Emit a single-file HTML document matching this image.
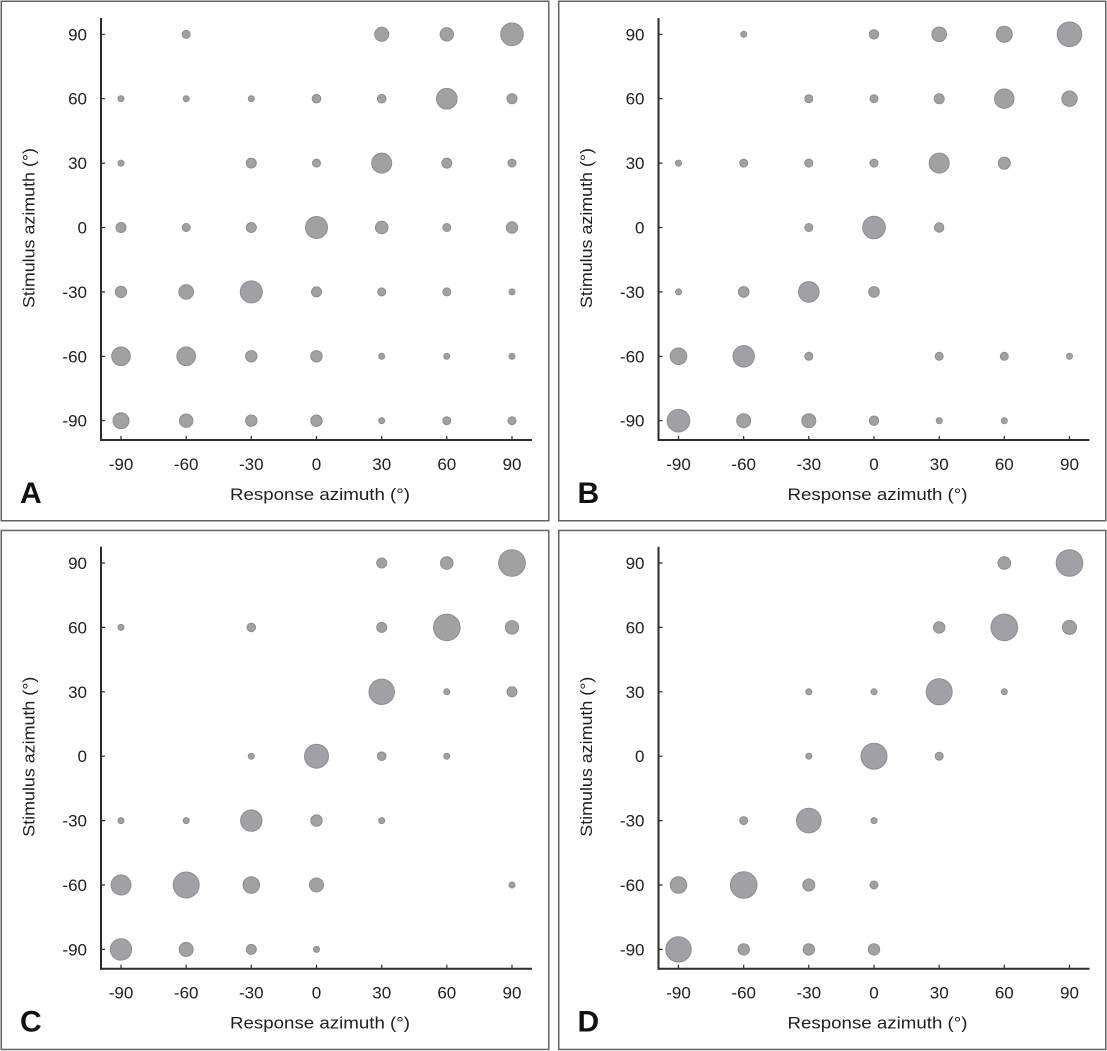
<!DOCTYPE html>
<html>
<head>
<meta charset="utf-8">
<style>
  html,body{margin:0;padding:0;background:#fff;}
  svg{display:block;}
  .tk{font-family:"Liberation Sans",sans-serif;font-size:17px;fill:#1e1e1e;}
  .ax{font-family:"Liberation Sans",sans-serif;font-size:17px;fill:#1e1e1e;}
  .pl{font-family:"Liberation Sans",sans-serif;font-size:30px;font-weight:bold;fill:#111;}
  .c{fill:#a1a1a5;stroke:#8d8d91;stroke-width:1;}
  .frame{fill:none;stroke:#636363;stroke-width:1.5;}
  .axis{stroke:#2b2b2b;stroke-width:2;fill:none;}
  .tick{stroke:#2b2b2b;stroke-width:1.2;fill:none;}
</style>
</head>
<body>
<svg width="1107" height="1051" viewBox="0 0 1107 1051" xmlns="http://www.w3.org/2000/svg">
<rect x="0" y="0" width="1107" height="1051" fill="#fff"/>

<!-- Panel A -->
<g transform="translate(0,0)">
  <rect class="frame" x="1.25" y="1.25" width="547.5" height="519.5"/>
  <line class="axis" x1="101" y1="18" x2="101" y2="441"/>
  <line class="axis" x1="100" y1="440" x2="532" y2="440"/>
  <path class="tick" d="M101 34.3h4M101 98.7h4M101 163.1h4M101 227.5h4M101 291.9h4M101 356.3h4M101 420.7h4"/>
  <path class="tick" d="M121 440v-4M186.2 440v-4M251.3 440v-4M316.5 440v-4M381.7 440v-4M446.8 440v-4M512 440v-4"/>
  <g class="tk" text-anchor="end">
    <text x="87" y="40.3">90</text><text x="87" y="104.7">60</text><text x="87" y="169.1">30</text><text x="87" y="233.5">0</text><text x="87" y="297.9">-30</text><text x="87" y="362.3">-60</text><text x="87" y="426.7">-90</text>
  </g>
  <g class="tk" text-anchor="middle">
    <text x="121" y="470">-90</text><text x="186.2" y="470">-60</text><text x="251.3" y="470">-30</text><text x="316.5" y="470">0</text><text x="381.7" y="470">30</text><text x="446.8" y="470">60</text><text x="512" y="470">90</text>
  </g>
  <text class="ax" x="230" y="500" textLength="180" lengthAdjust="spacingAndGlyphs">Response azimuth (°)</text>
  <text class="ax" transform="translate(34.5,228) rotate(-90)" x="-80" y="0" textLength="160" lengthAdjust="spacingAndGlyphs">Stimulus azimuth (°)</text>
  <text class="pl" x="20" y="503">A</text>
  <!-- circles -->
  <circle class="c" cx="186.2" cy="34.3" r="4"/>
  <circle class="c" cx="381.7" cy="34.3" r="7"/>
  <circle class="c" cx="446.8" cy="34.3" r="6.7"/>
  <circle class="c" cx="512" cy="34.3" r="11.3"/>

  <circle class="c" cx="121" cy="98.7" r="3"/>
  <circle class="c" cx="186.2" cy="98.7" r="3"/>
  <circle class="c" cx="251.3" cy="98.7" r="3"/>
  <circle class="c" cx="316.5" cy="98.7" r="4.3"/>
  <circle class="c" cx="381.7" cy="98.7" r="4.3"/>
  <circle class="c" cx="446.8" cy="98.7" r="10.3"/>
  <circle class="c" cx="512" cy="98.7" r="5"/>

  <circle class="c" cx="121" cy="163.1" r="3"/>
  <circle class="c" cx="251.3" cy="163.1" r="5"/>
  <circle class="c" cx="316.5" cy="163.1" r="4"/>
  <circle class="c" cx="381.7" cy="163.1" r="10"/>
  <circle class="c" cx="446.8" cy="163.1" r="5"/>
  <circle class="c" cx="512" cy="163.1" r="4"/>

  <circle class="c" cx="121" cy="227.5" r="5"/>
  <circle class="c" cx="186.2" cy="227.5" r="4"/>
  <circle class="c" cx="251.3" cy="227.5" r="5"/>
  <circle class="c" cx="316.5" cy="227.5" r="11"/>
  <circle class="c" cx="381.7" cy="227.5" r="6.3"/>
  <circle class="c" cx="446.8" cy="227.5" r="4"/>
  <circle class="c" cx="512" cy="227.5" r="5.7"/>

  <circle class="c" cx="121" cy="291.9" r="5.7"/>
  <circle class="c" cx="186.2" cy="291.9" r="7.3"/>
  <circle class="c" cx="251.3" cy="291.9" r="11"/>
  <circle class="c" cx="316.5" cy="291.9" r="5"/>
  <circle class="c" cx="381.7" cy="291.9" r="4"/>
  <circle class="c" cx="446.8" cy="291.9" r="4"/>
  <circle class="c" cx="512" cy="291.9" r="3"/>

  <circle class="c" cx="121" cy="356.3" r="9.3"/>
  <circle class="c" cx="186.2" cy="356.3" r="9.3"/>
  <circle class="c" cx="251.3" cy="356.3" r="5.7"/>
  <circle class="c" cx="316.5" cy="356.3" r="5.7"/>
  <circle class="c" cx="381.7" cy="356.3" r="3"/>
  <circle class="c" cx="446.8" cy="356.3" r="3"/>
  <circle class="c" cx="512" cy="356.3" r="3"/>

  <circle class="c" cx="121" cy="420.7" r="8"/>
  <circle class="c" cx="186.2" cy="420.7" r="6.7"/>
  <circle class="c" cx="251.3" cy="420.7" r="5.7"/>
  <circle class="c" cx="316.5" cy="420.7" r="5.7"/>
  <circle class="c" cx="381.7" cy="420.7" r="3"/>
  <circle class="c" cx="446.8" cy="420.7" r="4"/>
  <circle class="c" cx="512" cy="420.7" r="4"/>
</g>

<!-- Panel B -->
<g transform="translate(557.5,0)">
  <rect class="frame" x="1.25" y="1.25" width="547" height="519.5"/>
  <line class="axis" x1="101" y1="18" x2="101" y2="441"/>
  <line class="axis" x1="100" y1="440" x2="532" y2="440"/>
  <path class="tick" d="M101 34.3h4M101 98.7h4M101 163.1h4M101 227.5h4M101 291.9h4M101 356.3h4M101 420.7h4"/>
  <path class="tick" d="M121 440v-4M186.2 440v-4M251.3 440v-4M316.5 440v-4M381.7 440v-4M446.8 440v-4M512 440v-4"/>
  <g class="tk" text-anchor="end">
    <text x="87" y="40.3">90</text><text x="87" y="104.7">60</text><text x="87" y="169.1">30</text><text x="87" y="233.5">0</text><text x="87" y="297.9">-30</text><text x="87" y="362.3">-60</text><text x="87" y="426.7">-90</text>
  </g>
  <g class="tk" text-anchor="middle">
    <text x="121" y="470">-90</text><text x="186.2" y="470">-60</text><text x="251.3" y="470">-30</text><text x="316.5" y="470">0</text><text x="381.7" y="470">30</text><text x="446.8" y="470">60</text><text x="512" y="470">90</text>
  </g>
  <text class="ax" x="230" y="500" textLength="180" lengthAdjust="spacingAndGlyphs">Response azimuth (°)</text>
  <text class="ax" transform="translate(34.5,228) rotate(-90)" x="-80" y="0" textLength="160" lengthAdjust="spacingAndGlyphs">Stimulus azimuth (°)</text>
  <text class="pl" x="20" y="503">B</text>

  <circle class="c" cx="186.2" cy="34.3" r="3"/>
  <circle class="c" cx="316.5" cy="34.3" r="4.7"/>
  <circle class="c" cx="381.7" cy="34.3" r="7.3"/>
  <circle class="c" cx="446.8" cy="34.3" r="8"/>
  <circle class="c" cx="512" cy="34.3" r="12.3"/>

  <circle class="c" cx="251.3" cy="98.7" r="4"/>
  <circle class="c" cx="316.5" cy="98.7" r="4"/>
  <circle class="c" cx="381.7" cy="98.7" r="5"/>
  <circle class="c" cx="446.8" cy="98.7" r="9.7"/>
  <circle class="c" cx="512" cy="98.7" r="7.7"/>

  <circle class="c" cx="121" cy="163.1" r="3"/>
  <circle class="c" cx="186.2" cy="163.1" r="4"/>
  <circle class="c" cx="251.3" cy="163.1" r="4"/>
  <circle class="c" cx="316.5" cy="163.1" r="4"/>
  <circle class="c" cx="381.7" cy="163.1" r="10"/>
  <circle class="c" cx="446.8" cy="163.1" r="6"/>

  <circle class="c" cx="251.3" cy="227.5" r="4"/>
  <circle class="c" cx="316.5" cy="227.5" r="11.3"/>
  <circle class="c" cx="381.7" cy="227.5" r="4.7"/>

  <circle class="c" cx="121" cy="291.9" r="3"/>
  <circle class="c" cx="186.2" cy="291.9" r="5.3"/>
  <circle class="c" cx="251.3" cy="291.9" r="10.3"/>
  <circle class="c" cx="316.5" cy="291.9" r="5.3"/>

  <circle class="c" cx="121" cy="356.3" r="8.3"/>
  <circle class="c" cx="186.2" cy="356.3" r="10.7"/>
  <circle class="c" cx="251.3" cy="356.3" r="4"/>
  <circle class="c" cx="381.7" cy="356.3" r="4"/>
  <circle class="c" cx="446.8" cy="356.3" r="4"/>
  <circle class="c" cx="512" cy="356.3" r="3"/>

  <circle class="c" cx="121" cy="420.7" r="11.3"/>
  <circle class="c" cx="186.2" cy="420.7" r="7"/>
  <circle class="c" cx="251.3" cy="420.7" r="7"/>
  <circle class="c" cx="316.5" cy="420.7" r="4.7"/>
  <circle class="c" cx="381.7" cy="420.7" r="3"/>
  <circle class="c" cx="446.8" cy="420.7" r="3"/>
</g>

<!-- Panel C -->
<g transform="translate(0,528.7)">
  <rect class="frame" x="1.25" y="1.75" width="547.5" height="519"/>
  <line class="axis" x1="101" y1="18" x2="101" y2="441"/>
  <line class="axis" x1="100" y1="440" x2="532" y2="440"/>
  <path class="tick" d="M101 34.3h4M101 98.7h4M101 163.1h4M101 227.5h4M101 291.9h4M101 356.3h4M101 420.7h4"/>
  <path class="tick" d="M121 440v-4M186.2 440v-4M251.3 440v-4M316.5 440v-4M381.7 440v-4M446.8 440v-4M512 440v-4"/>
  <g class="tk" text-anchor="end">
    <text x="87" y="40.3">90</text><text x="87" y="104.7">60</text><text x="87" y="169.1">30</text><text x="87" y="233.5">0</text><text x="87" y="297.9">-30</text><text x="87" y="362.3">-60</text><text x="87" y="426.7">-90</text>
  </g>
  <g class="tk" text-anchor="middle">
    <text x="121" y="470">-90</text><text x="186.2" y="470">-60</text><text x="251.3" y="470">-30</text><text x="316.5" y="470">0</text><text x="381.7" y="470">30</text><text x="446.8" y="470">60</text><text x="512" y="470">90</text>
  </g>
  <text class="ax" x="230" y="500" textLength="180" lengthAdjust="spacingAndGlyphs">Response azimuth (°)</text>
  <text class="ax" transform="translate(34.5,228) rotate(-90)" x="-80" y="0" textLength="160" lengthAdjust="spacingAndGlyphs">Stimulus azimuth (°)</text>
  <text class="pl" x="20" y="503">C</text>

  <circle class="c" cx="381.7" cy="34.3" r="5"/>
  <circle class="c" cx="446.8" cy="34.3" r="6.3"/>
  <circle class="c" cx="512" cy="34.3" r="13.3"/>

  <circle class="c" cx="121" cy="98.7" r="3"/>
  <circle class="c" cx="251.3" cy="98.7" r="4.3"/>
  <circle class="c" cx="381.7" cy="98.7" r="5"/>
  <circle class="c" cx="446.8" cy="98.7" r="13.3"/>
  <circle class="c" cx="512" cy="98.7" r="6.7"/>

  <circle class="c" cx="381.7" cy="163.1" r="12.7"/>
  <circle class="c" cx="446.8" cy="163.1" r="3"/>
  <circle class="c" cx="512" cy="163.1" r="5"/>

  <circle class="c" cx="251.3" cy="227.5" r="3"/>
  <circle class="c" cx="316.5" cy="227.5" r="12"/>
  <circle class="c" cx="381.7" cy="227.5" r="4.3"/>
  <circle class="c" cx="446.8" cy="227.5" r="3"/>

  <circle class="c" cx="121" cy="291.9" r="3"/>
  <circle class="c" cx="186.2" cy="291.9" r="3"/>
  <circle class="c" cx="251.3" cy="291.9" r="10.7"/>
  <circle class="c" cx="316.5" cy="291.9" r="5.7"/>
  <circle class="c" cx="381.7" cy="291.9" r="3"/>

  <circle class="c" cx="121" cy="356.3" r="10"/>
  <circle class="c" cx="186.2" cy="356.3" r="13"/>
  <circle class="c" cx="251.3" cy="356.3" r="8.3"/>
  <circle class="c" cx="316.5" cy="356.3" r="7"/>
  <circle class="c" cx="512" cy="356.3" r="3"/>

  <circle class="c" cx="121" cy="420.7" r="10.7"/>
  <circle class="c" cx="186.2" cy="420.7" r="7"/>
  <circle class="c" cx="251.3" cy="420.7" r="5"/>
  <circle class="c" cx="316.5" cy="420.7" r="3"/>
</g>

<!-- Panel D -->
<g transform="translate(557.5,528.7)">
  <rect class="frame" x="1.25" y="1.75" width="547" height="519"/>
  <line class="axis" x1="101" y1="18" x2="101" y2="441"/>
  <line class="axis" x1="100" y1="440" x2="532" y2="440"/>
  <path class="tick" d="M101 34.3h4M101 98.7h4M101 163.1h4M101 227.5h4M101 291.9h4M101 356.3h4M101 420.7h4"/>
  <path class="tick" d="M121 440v-4M186.2 440v-4M251.3 440v-4M316.5 440v-4M381.7 440v-4M446.8 440v-4M512 440v-4"/>
  <g class="tk" text-anchor="end">
    <text x="87" y="40.3">90</text><text x="87" y="104.7">60</text><text x="87" y="169.1">30</text><text x="87" y="233.5">0</text><text x="87" y="297.9">-30</text><text x="87" y="362.3">-60</text><text x="87" y="426.7">-90</text>
  </g>
  <g class="tk" text-anchor="middle">
    <text x="121" y="470">-90</text><text x="186.2" y="470">-60</text><text x="251.3" y="470">-30</text><text x="316.5" y="470">0</text><text x="381.7" y="470">30</text><text x="446.8" y="470">60</text><text x="512" y="470">90</text>
  </g>
  <text class="ax" x="230" y="500" textLength="180" lengthAdjust="spacingAndGlyphs">Response azimuth (°)</text>
  <text class="ax" transform="translate(34.5,228) rotate(-90)" x="-80" y="0" textLength="160" lengthAdjust="spacingAndGlyphs">Stimulus azimuth (°)</text>
  <text class="pl" x="20" y="503">D</text>

  <circle class="c" cx="446.8" cy="34.3" r="6.3"/>
  <circle class="c" cx="512" cy="34.3" r="13.3"/>

  <circle class="c" cx="381.7" cy="98.7" r="5.7"/>
  <circle class="c" cx="446.8" cy="98.7" r="13.3"/>
  <circle class="c" cx="512" cy="98.7" r="7"/>

  <circle class="c" cx="251.3" cy="163.1" r="3"/>
  <circle class="c" cx="316.5" cy="163.1" r="3"/>
  <circle class="c" cx="381.7" cy="163.1" r="13"/>
  <circle class="c" cx="446.8" cy="163.1" r="3"/>

  <circle class="c" cx="251.3" cy="227.5" r="3"/>
  <circle class="c" cx="316.5" cy="227.5" r="13"/>
  <circle class="c" cx="381.7" cy="227.5" r="4"/>

  <circle class="c" cx="186.2" cy="291.9" r="4"/>
  <circle class="c" cx="251.3" cy="291.9" r="12.3"/>
  <circle class="c" cx="316.5" cy="291.9" r="3"/>

  <circle class="c" cx="121" cy="356.3" r="8.3"/>
  <circle class="c" cx="186.2" cy="356.3" r="13.3"/>
  <circle class="c" cx="251.3" cy="356.3" r="6"/>
  <circle class="c" cx="316.5" cy="356.3" r="4"/>

  <circle class="c" cx="121" cy="420.7" r="12.7"/>
  <circle class="c" cx="186.2" cy="420.7" r="5.7"/>
  <circle class="c" cx="251.3" cy="420.7" r="5.7"/>
  <circle class="c" cx="316.5" cy="420.7" r="5.7"/>
</g>
</svg>
</body>
</html>
